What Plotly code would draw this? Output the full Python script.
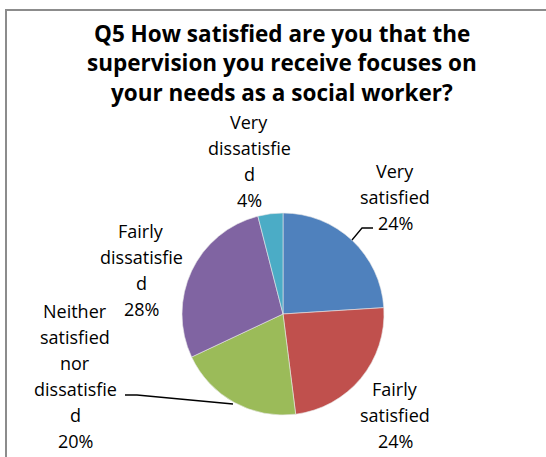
import plotly.graph_objects as go

# Survey responses (share of respondents, %)
categories = ["Very satisfied", "Fairly satisfied",
              "Neither satisfied nor dissatisfied",
              "Fairly dissatisfied", "Very dissatisfied"]
values = [24, 24, 20, 28, 4]
# Wrapped label lines as they are laid out around the pie
label_lines = [
    ["Very", "satisfied"],
    ["Fairly", "satisfied"],
    ["Neither", "satisfied", "nor", "dissatisfie", "d"],
    ["Fairly", "dissatisfie", "d"],
    ["Very", "dissatisfie", "d"],
]
colors = ["#4F81BD", "#C0504D", "#9BBB59", "#8064A2", "#4BACC6"]
title_lines = ["Q5 How satisfied are you that the",
               "supervision you receive focuses on",
               "your needs as a social worker?"]

W, H = 546, 457
FONT = "Open Sans"


def px(x):
    return x / W


def py(y):
    return 1 - y / H


# Pie geometry in pixels
cx, cy, r = 283, 314, 101

fig = go.Figure(go.Pie(
    labels=categories,
    values=values,
    sort=False,
    direction="clockwise",
    rotation=0,
    marker=dict(colors=colors, line=dict(color="#e8e8e8", width=0.6)),
    textinfo="none",
    hoverinfo="label+percent",
    showlegend=False,
    domain=dict(x=[px(cx - r), px(cx + r)], y=[py(cy + r), py(cy - r)]),
))

annotations = []
# Title lines
for i, t in enumerate(title_lines):
    annotations.append(dict(
        text=f"<b>{t}</b>", x=px(282), y=py(33 + i * 29.5),
        xref="paper", yref="paper", xanchor="center", yanchor="middle",
        showarrow=False, font=dict(family=FONT, size=22.5, color="#000000")))

# Data label placement: centre x and first-line centre y (pixels)
label_pos = [(395, 171), (395, 389), (75, 311), (141, 231), (249, 122)]
line_gap = 26
for lines, v, (lx, ly) in zip(label_lines, values, label_pos):
    for i, t in enumerate(lines + [f"{v}%"]):
        annotations.append(dict(
            text=t, x=px(lx), y=py(ly + i * line_gap),
            xref="paper", yref="paper", xanchor="center", yanchor="middle",
            showarrow=False, font=dict(family=FONT, size=18, color="#000000")))

shapes = [
    # Chart area frame
    dict(type="rect", xref="paper", yref="paper",
         x0=px(6), x1=px(W + 20), y0=py(H + 20), y1=py(10),
         line=dict(color="#8c8c8c", width=2), fillcolor="rgba(0,0,0,0)"),
    # Leader lines
    dict(type="path", xref="paper", yref="paper",
         path=f"M {px(352)},{py(240)} L {px(362)},{py(228)} L {px(373)},{py(228)}",
         line=dict(color="#000000", width=1.3)),
    dict(type="path", xref="paper", yref="paper",
         path=f"M {px(125)},{py(395)} L {px(137)},{py(395)} L {px(233)},{py(404)}",
         line=dict(color="#000000", width=1.3)),
]

fig.update_layout(
    width=W, height=H,
    margin=dict(l=0, r=0, t=0, b=0),
    paper_bgcolor="white",
    plot_bgcolor="white",
    annotations=annotations,
    shapes=shapes,
)

fig.write_html("out.html")
